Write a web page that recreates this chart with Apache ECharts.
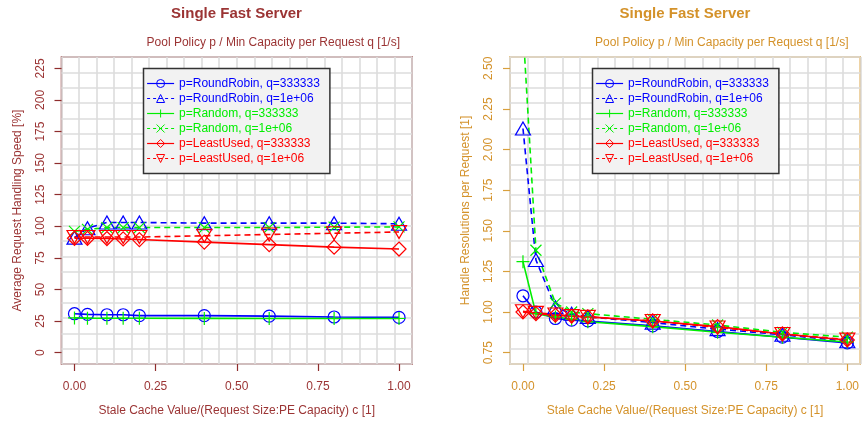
<!DOCTYPE html>
<html>
<head>
<meta charset="utf-8">
<script src="https://cdn.jsdelivr.net/npm/echarts@6/dist/echarts.min.js"></script>
<style>
  html, body { margin: 0; padding: 0; background: #ffffff; }
  #chart { width: 862px; height: 423px; }
</style>
</head>
<body>
<div id="chart"></div>
<script>
// Stale cache value c (x axis, shared by both panels)
const staleCache = [0, 0.04, 0.1, 0.15, 0.2, 0.4, 0.6, 0.8, 1.0];

// Series labels
const seriesNames = [
  'p=RoundRobin, q=333333',
  'p=RoundRobin, q=1e+06',
  'p=Random, q=333333',
  'p=Random, q=1e+06',
  'p=LeastUsed, q=333333',
  'p=LeastUsed, q=1e+06'
];

// Left panel: average request handling speed [%]
const speedRoundRobin333333 = [30.8, 30.3, 30.0, 30.0, 29.3, 29.3, 28.9, 28.2, 27.9];
const speedRoundRobin1e06   = [91.0, 98.5, 103.0, 103.0, 103.0, 102.5, 102.5, 102.5, 102.0];
const speedRandom333333     = [27.5, 27.3, 27.2, 27.2, 27.2, 27.1, 27.0, 27.0, 27.0];
const speedRandom1e06       = [96.0, 97.5, 99.0, 99.0, 99.0, 99.0, 99.0, 99.3, 99.5];
const speedLeastUsed333333  = [90.5, 90.5, 90.3, 90.0, 89.5, 87.5, 85.5, 83.5, 82.0];
const speedLeastUsed1e06    = [91.5, 91.5, 91.5, 91.5, 91.5, 92.5, 93.5, 94.5, 95.5];

// Right panel: handle resolutions per request [1]
const resolRoundRobin333333 = [1.10, 1.00, 0.96, 0.95, 0.945, 0.915, 0.88, 0.845, 0.81];
const resolRoundRobin1e06   = [2.13, 1.32, 1.03, 0.99, 0.97, 0.935, 0.895, 0.86, 0.82];
const resolRandom333333     = [1.31, 0.99, 0.97, 0.955, 0.94, 0.91, 0.875, 0.845, 0.815];
const resolRandom1e06       = [2.75, 1.38, 1.055, 1.00, 0.99, 0.955, 0.92, 0.875, 0.845];
const resolLeastUsed333333  = [1.00, 0.99, 0.98, 0.975, 0.97, 0.945, 0.91, 0.865, 0.828];
const resolLeastUsed1e06    = [1.005, 0.995, 0.985, 0.975, 0.97, 0.945, 0.905, 0.865, 0.83];

// Tick labels
const cTicks = [0, 0.25, 0.5, 0.75, 1.0];
const speedTicks = [0, 25, 50, 75, 100, 125, 150, 175, 200, 225];
const resolTicks = [0.75, 1.00, 1.25, 1.50, 1.75, 2.00, 2.25, 2.50];

const speedData = [speedRoundRobin333333, speedRoundRobin1e06, speedRandom333333,
                   speedRandom1e06, speedLeastUsed333333, speedLeastUsed1e06];
const resolData = [resolRoundRobin333333, resolRoundRobin1e06, resolRandom333333,
                   resolRandom1e06, resolLeastUsed333333, resolLeastUsed1e06];

const FONT = 'Liberation Sans, Arial, Helvetica, sans-serif';
const BLUE = '#0000ff', GREEN = '#00ee00', RED = '#ff0000';

// Line / marker styles per series (R-like pch 1..6)
const styles = [
  { color: BLUE,  dash: 'solid', symbol: 'circle',   size: 12, rotate: 0 },
  { color: BLUE,  dash: [6, 4],  symbol: 'triangle', size: [15, 13], rotate: 0 },
  { color: GREEN, dash: 'solid', symbol: 'path://M1,0 L1,2 M0,1 L2,1', size: 13, rotate: 0 },
  { color: GREEN, dash: [6, 4],  symbol: 'path://M0,0 L2,2 M2,0 L0,2', size: 11, rotate: 0 },
  { color: RED,   dash: 'solid', symbol: 'diamond',  size: 14, rotate: 0 },
  { color: RED,   dash: [6, 4],  symbol: 'triangle', size: [15, 13], rotate: 180 }
];

const panels = [
  { left: 61.5, color: '#9b3434', border: '#8f2d2d', titleX: 236.5, subRight: 400,
    yName: 'Average Request Handling Speed [%]', yMin: -9, yMax: 234,
    yTicks: speedTicks, yFmt: v => String(v), data: speedData, legendLeft: 143.5 },
  { left: 510, color: '#d4922a', border: '#d9a03c', titleX: 685, subRight: 848.5,
    yName: 'Handle Resolutions per Request [1]', yMin: 0.68, yMax: 2.57,
    yTicks: resolTicks, yFmt: v => v.toFixed(2), data: resolData, legendLeft: 592.5 }
];

const grids = [], xAxes = [], yAxes = [], series = [], legends = [], graphics = [];

panels.forEach((p, i) => {
  grids.push({
    left: p.left, top: 57, width: 350.5, height: 307,
    show: true, borderColor: p.border, borderWidth: 1.5, backgroundColor: 'transparent'
  });
  // data x axis
  xAxes.push({
    type: 'value', gridIndex: i, min: -0.04, max: 1.04, position: 'bottom',
    axisLine: { show: false, onZero: false },
    axisTick: { show: true, customValues: cTicks, length: 7, lineStyle: { color: p.border, width: 1.2 } },
    axisLabel: { customValues: cTicks, formatter: v => v.toFixed(2), margin: 17,
                 color: p.color, fontSize: 12, fontFamily: FONT },
    splitLine: { show: false },
    name: 'Stale Cache Value/(Request Size:PE Capacity) c [1]',
    nameLocation: 'middle', nameGap: 41,
    nameTextStyle: { color: p.color, fontSize: 12, fontFamily: FONT }
  });
  // background grid x (20 equal divisions)
  xAxes.push({
    type: 'value', gridIndex: i, min: 0, max: 20, interval: 1,
    axisLine: { show: false, onZero: false }, axisTick: { show: false }, axisLabel: { show: false },
    splitLine: { show: true, lineStyle: { color: '#dcdcdc', width: 1.6 } }
  });
  // data y axis
  yAxes.push({
    type: 'value', gridIndex: i, min: p.yMin, max: p.yMax, position: 'left',
    axisLine: { show: false, onZero: false },
    axisTick: { show: true, customValues: p.yTicks, length: 7, lineStyle: { color: p.border, width: 1.2 } },
    axisLabel: { customValues: p.yTicks, formatter: p.yFmt, rotate: 90, margin: 15,
                 color: p.color, fontSize: 12, fontFamily: FONT },
    splitLine: { show: false },
    name: p.yName, nameLocation: 'middle', nameGap: 38,
    nameTextStyle: { color: p.color, fontSize: 12, fontFamily: FONT }
  });
  // background grid y (20 equal divisions)
  yAxes.push({
    type: 'value', gridIndex: i, min: 0, max: 20, interval: 1,
    axisLine: { show: false, onZero: false }, axisTick: { show: false }, axisLabel: { show: false },
    splitLine: { show: true, lineStyle: { color: '#dcdcdc', width: 1.6 } }
  });

  p.data.forEach((vals, k) => {
    const s = styles[k];
    series.push({
      name: seriesNames[k], type: 'line',
      xAxisIndex: i * 2, yAxisIndex: i * 2,
      data: staleCache.map((c, j) => [c, vals[j]]),
      symbol: s.symbol, symbolSize: s.size, symbolRotate: s.rotate,
      showAllSymbol: true, clip: true, animation: false,
      lineStyle: { color: s.color, width: 1.6, type: s.dash },
      itemStyle: { color: 'rgba(0,0,0,0)', borderColor: s.color, borderWidth: 1.2 },
      emphasis: { disabled: true }
    });
  });

  legends.push({
    left: p.legendLeft, top: 68.5, orient: 'vertical',
    data: seriesNames.map((n, k) => ({ name: n, textStyle: { color: styles[k].color } })),
    itemWidth: 27, itemHeight: 10, itemGap: 3,
    padding: [9, 10, 9, 3],
    backgroundColor: '#f2f2f2', borderColor: '#333333', borderWidth: 1.5, borderRadius: 0,
    selectedMode: false,
    lineStyle: { width: 1.2, type: [3, 3] },
    itemStyle: { color: 'rgba(0,0,0,0)', borderWidth: 1 },
    textStyle: { fontSize: 12, fontFamily: FONT }
  });

  graphics.push({
    type: 'text', x: p.titleX, y: 14,
    style: { text: 'Single Fast Server', fill: p.color, font: 'bold 15px ' + FONT,
             textAlign: 'center', textVerticalAlign: 'middle' }
  });
  graphics.push({
    type: 'text', x: p.subRight, y: 43,
    style: { text: 'Pool Policy p / Min Capacity per Request q [1/s]', fill: p.color,
             font: '12px ' + FONT, textAlign: 'right', textVerticalAlign: 'middle' }
  });
});

// Solid series keep a solid legend line
legends.forEach(lg => {
  lg.data.forEach((d, k) => {
    if (styles[k].dash === 'solid') d.lineStyle = { type: 'solid' };
  });
});

const chart = echarts.init(document.getElementById('chart'), null, { renderer: 'canvas' });
chart.setOption({
  animation: false,
  backgroundColor: '#ffffff',
  grid: grids,
  xAxis: xAxes,
  yAxis: yAxes,
  legend: legends,
  graphic: graphics,
  series: series
});
</script>
</body>
</html>
